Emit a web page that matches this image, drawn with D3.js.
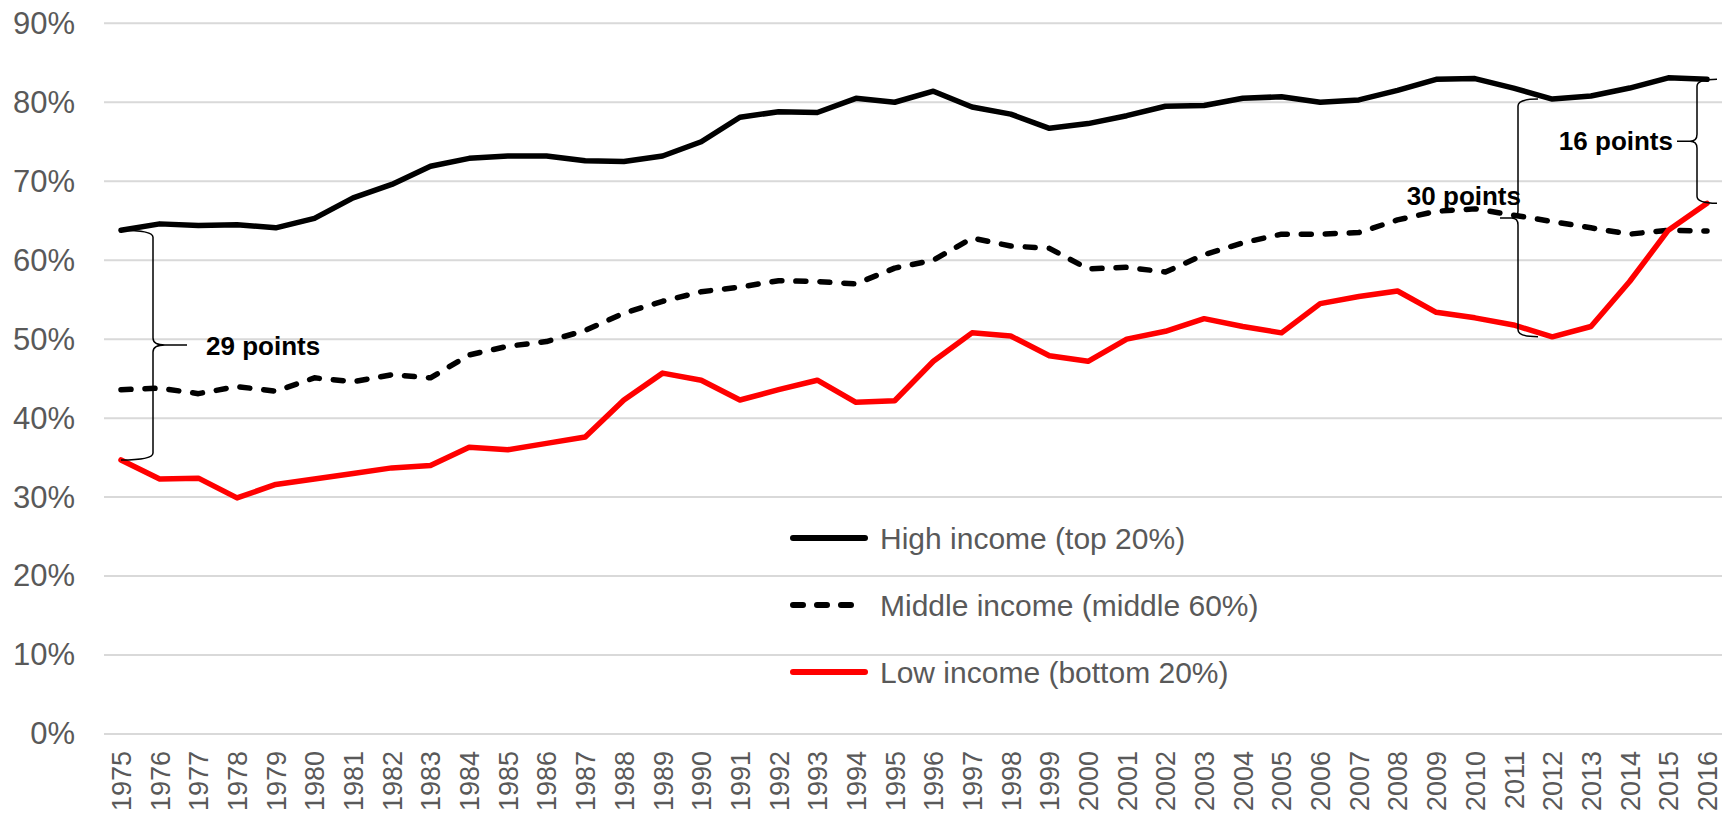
<!DOCTYPE html>
<html>
<head>
<meta charset="utf-8">
<script src="https://cdn.jsdelivr.net/npm/d3@7"></script>
<style>
  body { margin: 0; background: #fff; }
  svg { display: block; font-family: "Liberation Sans", Arial, sans-serif; }
</style>
</head>
<body>
<div id="chart"></div>
<script>
// data (percent)
var years = d3.range(1975, 2017);
var highIncome = [63.8, 64.6, 64.4, 64.5, 64.1, 65.3, 67.9, 69.6, 71.9, 72.9,
  73.2, 73.2, 72.6, 72.5, 73.2, 75.0, 78.1, 78.8, 78.7, 80.5,
  80.0, 81.4, 79.4, 78.5, 76.7, 77.3, 78.3, 79.5, 79.6, 80.5,
  80.7, 80.0, 80.3, 81.5, 82.9, 83.0, 81.8, 80.4, 80.8, 81.8,
  83.1, 82.9];
var middleIncome = [43.6, 43.8, 43.1, 44.0, 43.4, 45.1, 44.6, 45.5, 45.1, 48.0,
  49.1, 49.7, 51.1, 53.3, 54.8, 56.0, 56.6, 57.4, 57.3, 57.0,
  59.0, 60.0, 62.8, 61.8, 61.5, 58.9, 59.1, 58.5, 60.7, 62.2,
  63.3, 63.3, 63.5, 65.1, 66.2, 66.5, 65.7, 64.9, 64.1, 63.3,
  63.8, 63.7];
var lowIncome = [34.7, 32.3, 32.4, 29.9, 31.6, 32.3, 33.0, 33.7, 34.0, 36.3,
  36.0, 36.8, 37.6, 42.3, 45.7, 44.8, 42.3, 43.6, 44.8, 42.0,
  42.2, 47.2, 50.8, 50.4, 47.9, 47.2, 50.0, 51.0, 52.6, 51.6,
  50.8, 54.5, 55.4, 56.1, 53.4, 52.7, 51.8, 50.3, 51.6, 57.3,
  63.8, 67.2];
var yTicks = [0, 10, 20, 30, 40, 50, 60, 70, 80, 90];
var seriesNames = ["High income (top 20%)", "Middle income (middle 60%)", "Low income (bottom 20%)"];

var totalWidth = 1722,
    totalHeight = 815,
    gridLeft = 104;

var x = d3.scalePoint()
    .domain(years)
    .range([121, 1707]);

var y = d3.scaleLinear()
    .domain([0, 90])
    .range([734, 23.3]);

var svg = d3.select("#chart").append("svg")
    .attr("width", totalWidth)
    .attr("height", totalHeight);

// gridlines
svg.append("g")
  .selectAll("line")
  .data(yTicks)
  .enter().append("line")
    .attr("x1", gridLeft)
    .attr("x2", totalWidth)
    .attr("y1", function(d) { return y(d); })
    .attr("y2", function(d) { return y(d); })
    .attr("stroke", "#d9d9d9")
    .attr("stroke-width", 2);

// y axis labels
var yAxis = svg.append("g")
    .attr("transform", "translate(" + gridLeft + ",0)")
    .call(d3.axisLeft(y).tickValues(yTicks).tickFormat(function(d) { return d + "%"; })
      .tickSize(0).tickPadding(29));
yAxis.select(".domain").remove();
yAxis.selectAll("text")
    .attr("font-size", 31)
    .attr("font-family", "Liberation Sans, Arial, sans-serif")
    .attr("fill", "#595959");

// x axis labels, rotated
var xAxis = svg.append("g")
    .attr("transform", "translate(0," + y(0) + ")")
    .call(d3.axisBottom(x).tickSize(0));
xAxis.select(".domain").remove();
xAxis.selectAll("text")
    .attr("transform", "rotate(-90)")
    .attr("x", -17)
    .attr("y", 0)
    .attr("dy", "0.35em")
    .attr("text-anchor", "end")
    .attr("font-size", 27)
    .attr("font-family", "Liberation Sans, Arial, sans-serif")
    .attr("fill", "#595959");

var series = [
  {name: seriesNames[0], values: highIncome, color: "#000", dash: null},
  {name: seriesNames[1], values: middleIncome, color: "#000", dash: "10 14"},
  {name: seriesNames[2], values: lowIncome, color: "#ff0000", dash: null}
];

var line = d3.line()
    .x(function(d, i) { return x(years[i]); })
    .y(function(d) { return y(d); });

svg.append("g")
  .selectAll("path")
  .data(series)
  .enter().append("path")
    .attr("d", function(d) { return line(d.values); })
    .attr("fill", "none")
    .attr("stroke", function(d) { return d.color; })
    .attr("stroke-width", 5.5)
    .attr("stroke-linejoin", "round")
    .attr("stroke-linecap", "round")
    .attr("stroke-dasharray", function(d) { return d.dash; });

// legend
var legend = svg.append("g")
  .selectAll("g")
  .data(series)
  .enter().append("g")
    .attr("transform", function(d, i) { return "translate(793," + (538 + i * 67) + ")"; });

legend.append("line")
    .attr("x1", 0)
    .attr("x2", function(d) { return d.dash ? 66 : 72; })
    .attr("stroke", function(d) { return d.color; })
    .attr("stroke-width", 6)
    .attr("stroke-linecap", "round")
    .attr("stroke-dasharray", function(d) { return d.dash; });

legend.append("text")
    .attr("x", 87)
    .attr("dy", "0.35em")
    .attr("font-size", 30)
    .attr("fill", "#595959")
    .text(function(d) { return d.name; });

// braces showing the gaps
function bracePath(xEnd, xv, xTip, y0, y1) {
  var ym = (y0 + y1) / 2, r = 7;
  var xs = xv + (xTip - xv) * 0.35;
  return "M" + xEnd + "," + y0 +
    " Q" + xv + "," + y0 + " " + xv + "," + (y0 + r) +
    " L" + xv + "," + (ym - r) +
    " Q" + xv + "," + ym + " " + xs + "," + ym +
    " L" + xTip + "," + ym +
    " M" + xs + "," + ym +
    " Q" + xv + "," + ym + " " + xv + "," + (ym + r) +
    " L" + xv + "," + (y1 - r) +
    " Q" + xv + "," + y1 + " " + xEnd + "," + y1;
}

var i1975 = 0, i2012 = years.indexOf(2012), i2016 = years.indexOf(2016);

var braces = [
  {xEnd: x(1975), xv: 153, xTip: 187, y0: y(highIncome[i1975]), y1: y(lowIncome[i1975])},
  {xEnd: 1538, xv: 1518, xTip: 1500, y0: y(highIncome[i2012]), y1: y(lowIncome[i2012])},
  {xEnd: 1717, xv: 1697, xTip: 1677, y0: y(highIncome[i2016]), y1: y(lowIncome[i2016])}
];

svg.append("g")
  .selectAll("path")
  .data(braces)
  .enter().append("path")
    .attr("d", function(d) { return bracePath(d.xEnd, d.xv, d.xTip, d.y0, d.y1); })
    .attr("fill", "none")
    .attr("stroke", "#000")
    .attr("stroke-width", 1.5);

var notes = [
  {text: "29 points", x: 206, y: 355, anchor: "start"},
  {text: "30 points", x: 1521, y: 205, anchor: "end"},
  {text: "16 points", x: 1673, y: 150, anchor: "end"}
];

svg.append("g")
  .selectAll("text")
  .data(notes)
  .enter().append("text")
    .attr("x", function(d) { return d.x; })
    .attr("y", function(d) { return d.y; })
    .attr("text-anchor", function(d) { return d.anchor; })
    .attr("font-size", 26)
    .attr("font-weight", "bold")
    .attr("fill", "#000")
    .text(function(d) { return d.text; });
</script>
</body>
</html>
